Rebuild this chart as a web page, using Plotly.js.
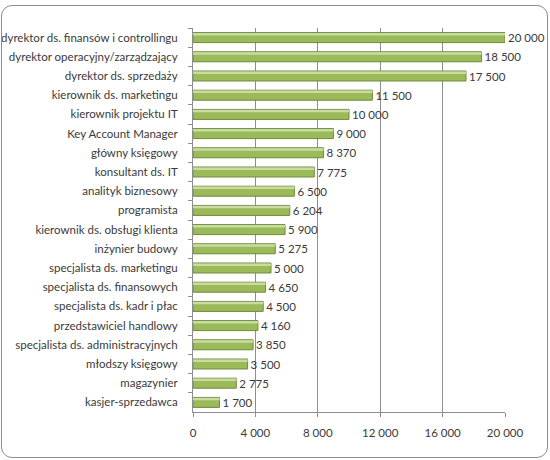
<!DOCTYPE html>
<html>
<head>
<meta charset="utf-8">
<script src="https://cdn.plot.ly/plotly-3.0.1.min.js"></script>
<style>
  html, body { margin: 0; padding: 0; background: #ffffff; }
  #wrap { position: relative; width: 550px; height: 460px; }
  #chart { position: absolute; left: 0; top: 0; width: 550px; height: 460px; }
  #frame {
    position: absolute; left: 1px; top: 5px; width: 545px; height: 451px;
    border: 1px solid #8c8c8c; border-radius: 11px; pointer-events: none;
  }
</style>
</head>
<body>
<div id="wrap">
  <div id="chart"></div>
  <div id="frame"></div>
</div>
<script>
// Monthly salary by position (PLN), ordered from highest to lowest
const positions = [
  "dyrektor ds. finansów i controllingu",
  "dyrektor operacyjny/zarządzający",
  "dyrektor ds. sprzedaży",
  "kierownik ds. marketingu",
  "kierownik projektu IT",
  "Key Account Manager",
  "główny księgowy",
  "konsultant ds. IT",
  "analityk biznesowy",
  "programista",
  "kierownik ds. obsługi klienta",
  "inżynier budowy",
  "specjalista ds. marketingu",
  "specjalista ds. finansowych",
  "specjalista ds. kadr i płac",
  "przedstawiciel handlowy",
  "specjalista ds. administracyjnych",
  "młodszy księgowy",
  "magazynier",
  "kasjer-sprzedawca"
];
const salaries = [20000, 18500, 17500, 11500, 10000, 9000, 8370, 7775, 6500, 6204,
                  5900, 5275, 5000, 4650, 4500, 4160, 3850, 3500, 2775, 1700];
const xTicks = [0, 4000, 8000, 12000, 16000, 20000];

const textColor = "#3a3a3a";
const font = { family: "Lato, 'Open Sans', sans-serif", size: 11.5, color: textColor };

// Main bar body
const bars = {
  type: "bar",
  orientation: "h",
  x: salaries,
  y: positions,
  width: 0.52,
  marker: { color: "#9BBB59", line: { color: "#6F8A3A", width: 1 } },
  texttemplate: "%{x:,}",
  textposition: "outside",
  constraintext: "none",
  textfont: font,
  cliponaxis: false,
  hoverinfo: "x+y"
};

// Light strip along the top face of each bar for a raised look
const highlight = {
  type: "bar",
  orientation: "h",
  x: salaries,
  y: positions,
  width: 0.13,
  offset: -0.24,
  marker: { color: "#C9DCA3", line: { width: 0 } },
  hoverinfo: "skip",
  textposition: "none"
};

const layout = {
  width: 550,
  height: 460,
  margin: { l: 193, r: 45, t: 28, b: 48 },
  paper_bgcolor: "#ffffff",
  plot_bgcolor: "#ffffff",
  font: font,
  separators: ". ",
  showlegend: false,
  barmode: "overlay",
  xaxis: {
    range: [0, 20000],
    tickvals: xTicks,
    tickformat: ",",
    showgrid: true,
    gridcolor: "#8e8e8e",
    gridwidth: 1,
    zeroline: false,
    showline: true,
    linecolor: "#8e8e8e",
    ticks: "outside",
    ticklen: 4,
    tickcolor: "#8e8e8e",
    ticklabelstandoff: 6,
    tickfont: font,
    fixedrange: true
  },
  yaxis: {
    type: "category",
    autorange: "reversed",
    showgrid: false,
    zeroline: false,
    showline: true,
    linecolor: "#8e8e8e",
    ticks: "outside",
    tickson: "boundaries",
    ticklen: 4,
    tickcolor: "#8e8e8e",
    ticklabelstandoff: 12,
    tickfont: font,
    fixedrange: true
  }
};

Plotly.newPlot("chart", [bars, highlight], layout, { displayModeBar: false, staticPlot: true });
</script>
</body>
</html>
